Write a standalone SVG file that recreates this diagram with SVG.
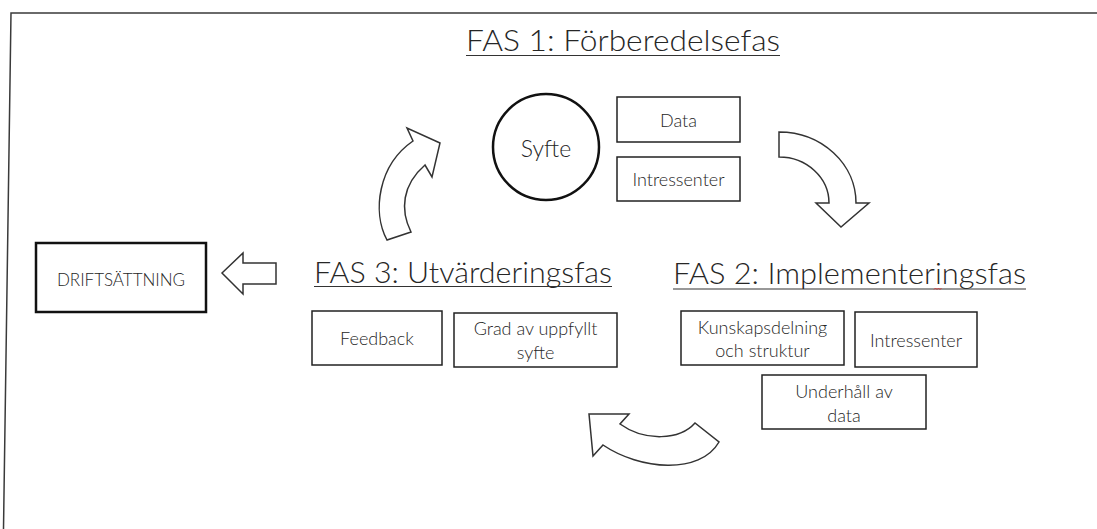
<svg xmlns="http://www.w3.org/2000/svg" width="1097" height="529" viewBox="0 0 1097 529">
  <style>
    .frame { fill: none; stroke: #3a3a3a; stroke-width: 1.5; }
    .box { fill: #fff; stroke: #222; stroke-width: 1.5; }
    .thick { fill: #fff; stroke: #111; stroke-width: 2.5; }
    .arrow { fill: #fff; stroke: #333; stroke-width: 1.5; stroke-linejoin: miter; }
    .title { font-family: Lato, "Open Sans", "Liberation Sans", sans-serif; font-weight: 300; font-size: 29px; fill: #262626; }
    .label { font-family: Lato, "Open Sans", "Liberation Sans", sans-serif; font-weight: 300; font-size: 18px; fill: #262626; text-anchor: middle; }
    .uline { stroke: #333; stroke-width: 1.2; }
  </style>

  <!-- page frame (top and left edges) -->
  <path class="frame" d="M1097,13 L11,13 L3.5,529"/>

  <!-- phase headings -->
  <g id="fas1">
    <text class="title" x="466" y="51" textLength="314" lengthAdjust="spacingAndGlyphs">FAS 1: Förberedelsefas</text>
    <line class="uline" x1="466" y1="55.5" x2="780" y2="55.5"/>
  </g>
  <g id="fas2">
    <text class="title" x="673" y="284" textLength="353" lengthAdjust="spacingAndGlyphs">FAS 2: Implementeringsfas</text>
    <line class="uline" x1="673" y1="289" x2="1026" y2="289"/>
    <path d="M934,289.5 l1.5,-1.5 l1.5,1.5 l1.5,-1.5 l1.5,1.5 l1.5,-1.5" fill="none" stroke="#d03030" stroke-width="0.9"/>
  </g>
  <g id="fas3">
    <text class="title" x="314" y="283" textLength="298" lengthAdjust="spacingAndGlyphs">FAS 3: Utvärderingsfas</text>
    <line class="uline" x1="314" y1="286.5" x2="612" y2="286.5"/>
  </g>

  <!-- phase 1 items -->
  <g id="syfte">
    <circle class="thick" cx="546" cy="147" r="53"/>
    <text class="label" x="546" y="157" style="font-size:23px">Syfte</text>
  </g>
  <g id="data">
    <rect class="box" x="617" y="97" width="123" height="45"/>
    <text class="label" x="678.5" y="127">Data</text>
  </g>
  <g id="intressenter1">
    <rect class="box" x="617" y="157" width="123" height="44"/>
    <text class="label" x="678.5" y="186">Intressenter</text>
  </g>

  <!-- phase 2 items -->
  <g id="kunskapsdelning">
    <rect class="box" x="681" y="311" width="163" height="54"/>
    <text class="label" x="762.5" y="334">Kunskapsdelning</text>
    <text class="label" x="762.5" y="357">och struktur</text>
  </g>
  <g id="intressenter2">
    <rect class="box" x="855" y="312" width="122" height="55"/>
    <text class="label" x="916" y="347">Intressenter</text>
  </g>
  <g id="underhall">
    <rect class="box" x="762" y="375" width="164" height="54"/>
    <text class="label" x="844" y="398">Underhåll av</text>
    <text class="label" x="844" y="422">data</text>
  </g>

  <!-- phase 3 items -->
  <g id="feedback">
    <rect class="box" x="312" y="311" width="130" height="54"/>
    <text class="label" x="377" y="345">Feedback</text>
  </g>
  <g id="grad">
    <rect class="box" x="454" y="313" width="163" height="54"/>
    <text class="label" x="535.5" y="335">Grad av uppfyllt</text>
    <text class="label" x="535.5" y="359">syfte</text>
  </g>

  <!-- deployment -->
  <g id="driftsattning">
    <rect class="thick" x="36" y="243" width="170" height="69"/>
    <text class="label" x="121" y="286" style="font-size:17px">DRIFTSÄTTNING</text>
  </g>

  <!-- cycle arrows -->
  <g id="connectors">
    <!-- phase 1 to phase 2 -->
    <path class="arrow" d="M779,132 A77,71 0 0 1 856,203 L869,203 L841,227 L816,203 L829,203 A50,46 0 0 0 779,157 Z"/>
    <!-- phase 2 to phase 3 -->
    <path class="arrow" d="M719,442 C700,475 640,470 603,445 L593,456 L589,414 L629,414 L620,424 C645,442 680,440 695,423 Z"/>
    <!-- phase 3 to phase 1 -->
    <path class="arrow" d="M387,240 C372,212 378,165 413,141 L407,128 L440,143 L432,177 L425,165 C402,185 400,210 411,232 Z"/>
    <!-- phase 3 to deployment -->
    <path class="arrow" d="M222,273 L243,253 L243,263 L276,263 L276,284 L243,284 L243,294 Z"/>
  </g>
</svg>
